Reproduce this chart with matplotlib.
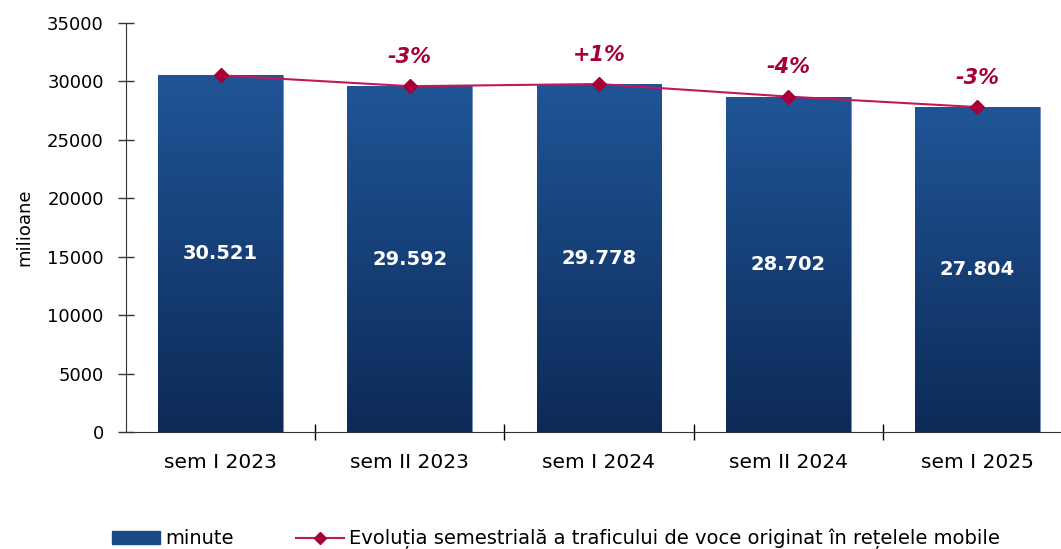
import numpy as np
import matplotlib
matplotlib.use("Agg")
from matplotlib import pyplot as plt
from matplotlib.colors import LinearSegmentedColormap
from matplotlib.patches import Patch
from matplotlib.lines import Line2D

categories = ["sem I 2023", "sem II 2023", "sem I 2024", "sem II 2024", "sem I 2025"]
minutes = [30521, 29592, 29778, 28702, 27804]
value_labels = ["30.521", "29.592", "29.778", "28.702", "27.804"]
pct_labels = ["", "-3%", "+1%", "-4%", "-3%"]

plt.rcParams['font.family'] = ['DejaVu Sans']

fig = plt.figure(figsize=(10.61, 5.49), dpi=100)
ax = fig.add_axes([126 / 1061, 117 / 549, 946 / 1061, 409 / 549])

x = np.arange(len(categories))
bars = ax.bar(x, minutes, width=0.66, color="#1b4a88", edgecolor="#6f8fc0", linewidth=0.6, zorder=2)

# gradient fill, light on top, dark at the bottom
cmap = LinearSegmentedColormap.from_list("g", ["#0d2a57", "#1f5597"])
grad = np.linspace(0, 1, 256).reshape(-1, 1)
for bar in bars:
    x0, w, h = bar.get_x(), bar.get_width(), bar.get_height()
    im = ax.imshow(grad, cmap=cmap, origin="lower", aspect="auto",
                   extent=(x0, x0 + w, 0, h), zorder=2.5)
    im.set_clip_path(bar)

ax.plot(x, minutes, color="#c2185b", linewidth=1.5, marker="D", markersize=7,
        markerfacecolor="#a5003a", markeredgecolor="#a5003a", zorder=4)

for xi, v, lab in zip(x, minutes, value_labels):
    ax.text(xi, v / 2, lab, ha="center", va="center", color="white",
            fontsize=14, fontweight="bold", zorder=5)

for xi, v, lab in zip(x, minutes, pct_labels):
    if lab:
        ax.annotate(lab, (xi, v), xytext=(0, 21), textcoords="offset points",
                    ha="center", va="center", color="#a5003a", fontsize=15,
                    fontweight="bold", fontstyle="italic", zorder=5)

ax.set_xlim(-0.5, len(categories) - 0.5)
ax.set_ylim(0, 35000)
ax.set_yticks(np.arange(0, 35001, 5000))
ax.tick_params(axis="y", direction="inout", length=12, width=1, labelsize=13, pad=10)
ax.set_xticks(x)
ax.set_xticklabels(categories, fontsize=14.5)
ax.tick_params(axis="x", length=0, pad=15)
ax.set_xticks(np.arange(0.5, len(categories) - 0.5, 1), minor=True)
ax.tick_params(axis="x", which="minor", direction="inout", length=12, width=1)

for s in ["top", "right"]:
    ax.spines[s].set_visible(False)
ax.spines["left"].set_color("#333333")
ax.spines["bottom"].set_color("#333333")
ax.tick_params(colors="#333333", labelcolor="black")
ax.set_ylabel("milioane", fontsize=13, labelpad=10)

handles = [
    Patch(facecolor="#1b4a88", edgecolor="#1b4a88"),
    Line2D([0], [0], color="#c2185b", linewidth=1.5, marker="D", markersize=6,
           markerfacecolor="#a5003a", markeredgecolor="#a5003a"),
]
fig.legend(handles, ["minute", "Evoluția semestrială a traficului de voce originat în rețelele mobile"],
           loc="center", bbox_to_anchor=(0.524, 0.018), ncol=2, frameon=False,
           fontsize=14, handlelength=2.5, handleheight=0.6, handletextpad=0.25,
           columnspacing=3.2, borderpad=0)

fig.savefig("out.png", dpi=100)
